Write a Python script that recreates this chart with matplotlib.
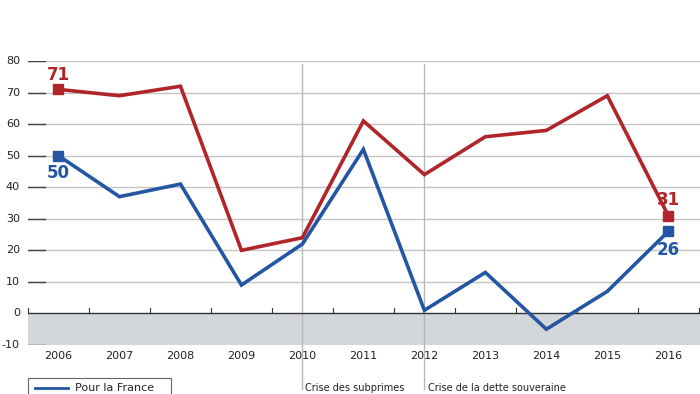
import matplotlib
matplotlib.use("Agg")
import matplotlib.pyplot as plt
from matplotlib.patches import Rectangle
from matplotlib.lines import Line2D

years = [2006, 2007, 2008, 2009, 2010, 2011, 2012, 2013, 2014, 2015, 2016]
red_vals = [71, 69, 72, 20, 24, 61, 44, 56, 58, 69, 31]
blue_vals = [50, 37, 41, 9, 22, 52, 1, 13, -5, 7, 26]
y_ticks = [-10, 0, 10, 20, 30, 40, 50, 60, 70, 80]
crisis_years = [2010, 2012]
crisis_labels = ["Crise des subprimes", "Crise de la dette souveraine"]
legend_label = "Pour la France"

red = "#b0252a"
blue = "#2456a4"

fig = plt.figure(figsize=(7, 3.94), dpi=100)
ax = fig.add_axes([28 / 700, 49 / 394, 672 / 700, 284 / 394])
ax.set_xlim(2005.5, 2016.52)
ax.set_ylim(-10, 80)

# grey band under zero
ax.axhspan(-10, 0, color="#d4d7da", zorder=0, lw=0)
for v in y_ticks:
    if v in (0, -10):
        continue
    ax.axhline(v, color="#c4c4c4", lw=1, zorder=1)
for v in y_ticks:
    if v == 0:
        continue
    ax.plot([0, 0.025], [v, v], transform=ax.get_yaxis_transform(),
            color="#444444", lw=1, zorder=2)
ax.axhline(0, color="#333333", lw=1, zorder=3)

# small ticks at half years on the zero line
for i in range(len(years) + 1):
    xh = years[0] - 0.5 + i
    ax.plot([xh, xh], [0, 1.6], color="#333333", lw=0.8, zorder=3, clip_on=False)

# crisis lines running down to the bottom of the figure
for cy in crisis_years:
    ax.plot([cy, cy], [-24, 79], color="#b8b8b8", lw=1, zorder=1, clip_on=False)

ax.plot(years, red_vals, color=red, lw=2.6, zorder=5, solid_joinstyle="miter")
ax.plot(years, blue_vals, color=blue, lw=2.6, zorder=5, solid_joinstyle="miter")
ax.plot([years[0], years[-1]], [red_vals[0], red_vals[-1]], "s", color=red, ms=7, zorder=6)
ax.plot([years[0], years[-1]], [blue_vals[0], blue_vals[-1]], "s", color=blue, ms=7, zorder=6)

lab = dict(fontsize=12, fontweight="bold", ha="center")
ax.annotate(str(red_vals[0]), (years[0], red_vals[0]), xytext=(0, 4), textcoords="offset points",
            va="bottom", color=red, **lab)
ax.annotate(str(blue_vals[0]), (years[0], blue_vals[0]), xytext=(0, -6), textcoords="offset points",
            va="top", color=blue, **lab)
ax.annotate(str(red_vals[-1]), (years[-1], red_vals[-1]), xytext=(0, 5), textcoords="offset points",
            va="bottom", color=red, **lab)
ax.annotate(str(blue_vals[-1]), (years[-1], blue_vals[-1]), xytext=(0, -7), textcoords="offset points",
            va="top", color=blue, **lab)

for s in ax.spines.values():
    s.set_visible(False)
ax.set_xticks([])
ax.set_yticks([])

tickfont = dict(fontsize=8, color="#222222")
for v in y_ticks:
    ax.text(-0.012, v, str(v), transform=ax.get_yaxis_transform(), ha="right", va="center", **tickfont)
for y in years:
    ax.text(y, -13.5, str(y), ha="center", va="center", **tickfont)

# bottom legend box (runs past the image edge)
fig.add_artist(Rectangle((28 / 700, -0.05), 143 / 700, (0.05 + 16 / 394), transform=fig.transFigure,
                         fill=False, ec="#666666", lw=0.8))
fig.add_artist(Line2D([35 / 700, 68 / 700], [6 / 394, 6 / 394], transform=fig.transFigure,
                      color=blue, lw=2))
fig.text(75 / 700, 1 / 394, legend_label, fontsize=8, color="#222222", va="bottom")
fig.text(305 / 700, 1 / 394, crisis_labels[0], fontsize=7, color="#222222", va="bottom")
fig.text(428 / 700, 1 / 394, crisis_labels[1], fontsize=7, color="#222222", va="bottom")

fig.savefig("out.png", dpi=100)
